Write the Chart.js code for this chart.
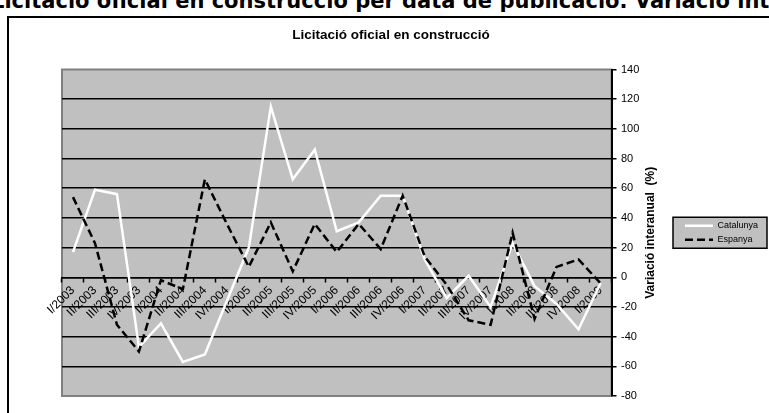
<!DOCTYPE html>
<html>
<head>
<meta charset="utf-8">
<script src="https://cdn.jsdelivr.net/npm/chart.js@4.4.1/dist/chart.umd.min.js"></script>
<style>
  html, body { margin: 0; padding: 0; background: #fff; }
  body { width: 769px; height: 413px; overflow: hidden; position: relative; }
  .heading {
    position: absolute; left: -9px; top: -9px;
    font: bold 21px/21px 'DejaVu Sans', Verdana, sans-serif;
    white-space: nowrap; color: #000;
  }
  .frame {
    position: absolute; left: 7px; top: 16px;
    width: 800px; height: 500px; border: 2px solid #000;
  }
  .chart-box { position: absolute; left: 0; top: 0; width: 769px; height: 413px; }
</style>
</head>
<body>
<div class="heading">Licitació oficial en construcció per data de publicació. Variació interanual</div>
<div class="frame"></div>
<div class="chart-box"><canvas id="chart"></canvas></div>
<script>
// quarters on the category axis
const quarters = [
  'I/2003', 'II/2003', 'III/2003', 'IV/2003',
  'I/2004', 'II/2004', 'III/2004', 'IV/2004',
  'I/2005', 'II/2005', 'III/2005', 'IV/2005',
  'I/2006', 'II/2006', 'III/2006', 'IV/2006',
  'I/2007', 'II/2007', 'III/2007', 'IV/2007',
  'I/2008', 'II/2008', 'III/2008', 'IV/2008',
  'I/2009'
]

// year-on-year change (%)
const catalunya = [17, 59, 56, -47, -31, -57, -52, -16, 20, 115, 66, 86, 31, 37, 55, 55, 12, -14, 1, -20, 23, -6, -18, -35, -4]
const espanya = [54, 23, -32, -50, -2, -8, 66, 36, 7, 37, 4, 36, 17, 36, 19, 55, 14, -5, -29, -32, 30, -28, 7, 12, -4]

const yMin = -80
const yMax = 140
const yStep = 20

const chartTitle = 'Licitació oficial en construcció'
const yTitle = 'Variació interanual  (%)'

const FONT = "'Liberation Sans', Arial, sans-serif"
Chart.defaults.font.family = FONT
Chart.defaults.color = '#000'

// grey plot area with its border, and the box round the legend
const plotBackground = {
  id: 'plotBackground',
  beforeDraw(chart) {
    const { ctx, chartArea: a, legend } = chart
    ctx.save()
    ctx.fillStyle = '#c0c0c0'
    ctx.fillRect(a.left, a.top, a.right - a.left, a.bottom - a.top)
    ctx.strokeStyle = '#808080'
    ctx.lineWidth = 2
    ctx.strokeRect(a.left, a.top, a.right - a.left, a.bottom - a.top)

    const boxes = legend && legend.legendHitBoxes
    if (boxes && boxes.length) {
      const first = boxes[0]
      const last = boxes[boxes.length - 1]
      const top = first.top - 4
      const bottom = last.top + last.height + 4
      ctx.fillStyle = '#c0c0c0'
      ctx.fillRect(673, top, 94, bottom - top)
      ctx.strokeStyle = '#000'
      ctx.lineWidth = 1.5
      ctx.strokeRect(673, top, 94, bottom - top)
    }
    ctx.restore()
  }
}

// value axis title reads bottom to top on the right side
const axisTitle = {
  id: 'axisTitle',
  afterDraw(chart) {
    const { ctx, chartArea: a } = chart
    ctx.save()
    ctx.translate(a.right + 39.5, (a.top + a.bottom) / 2)
    ctx.rotate(-Math.PI / 2)
    ctx.font = 'bold 12px ' + FONT
    ctx.fillStyle = '#000'
    ctx.textAlign = 'center'
    ctx.textBaseline = 'middle'
    ctx.fillText(yTitle, 0, 0)
    ctx.restore()
  }
}

new Chart(document.getElementById('chart'), {
  type: 'line',
  data: {
    labels: quarters,
    datasets: [
      {
        label: 'Catalunya',
        data: catalunya,
        borderColor: '#fff',
        backgroundColor: '#fff',
        borderWidth: 2.5,
        pointRadius: 0,
        tension: 0,
        yAxisID: 'y',
        order: 1
      },
      {
        label: 'Espanya',
        data: espanya,
        borderColor: '#000',
        backgroundColor: '#000',
        borderWidth: 2.5,
        borderDash: [8, 4],
        pointRadius: 0,
        tension: 0,
        yAxisID: 'y',
        order: 0
      }
    ]
  },
  options: {
    responsive: true,
    maintainAspectRatio: false,
    animation: false,
    devicePixelRatio: 1,
    layout: { padding: { left: 18, right: 5, top: 0, bottom: 17 } },
    plugins: {
      title: {
        display: true,
        text: chartTitle,
        color: '#000',
        font: { size: 13.5, weight: 'bold' },
        padding: { top: 26.9, bottom: 26.4 }
      },
      legend: {
        position: 'right',
        fullSize: false,
        align: 'center',
        maxWidth: 84,
        labels: {
          // zero-height box drawn as a line sample, width chosen so the dash repeats cleanly
          boxWidth: 28,
          boxHeight: 0,
          padding: 5,
          color: '#000',
          font: { size: 9 },
          sort: (a, b) => a.datasetIndex - b.datasetIndex
        }
      },
      tooltip: { enabled: false }
    },
    scales: {
      x: {
        position: { y: 0 },
        offset: true,
        grid: {
          display: true,
          drawOnChartArea: false,
          drawTicks: true,
          offset: true,
          tickLength: 4,
          tickColor: '#000',
          tickWidth: 1.5
        },
        border: { display: true, color: '#000', width: 1.5 },
        ticks: {
          autoSkip: false,
          minRotation: 45,
          maxRotation: 45,
          padding: 2,
          color: '#000',
          font: { size: 12 }
        }
      },
      y: {
        position: 'right',
        min: yMin,
        max: yMax,
        ticks: {
          stepSize: yStep,
          padding: 4.5,
          color: '#000',
          font: { size: 11 }
        },
        grid: {
          color: c => (c.tick && (c.tick.value === yMin || c.tick.value === yMax)) ? 'rgba(0,0,0,0)' : '#000',
          lineWidth: 1.5,
          drawTicks: true,
          tickLength: 5,
          tickColor: '#000',
          tickWidth: 1.5
        },
        border: { display: true, color: '#000', width: 2 },
        afterFit: s => { s.width = 68.5 }
      },
      // empty spacer on the left, keeps the title centred like the original
      pad: {
        axis: 'y',
        position: 'left',
        display: true,
        grid: { display: false },
        border: { display: false },
        ticks: { display: false },
        afterFit: s => { s.width = 44 }
      }
    }
  },
  plugins: [plotBackground, axisTitle]
})
</script>
</body>
</html>
